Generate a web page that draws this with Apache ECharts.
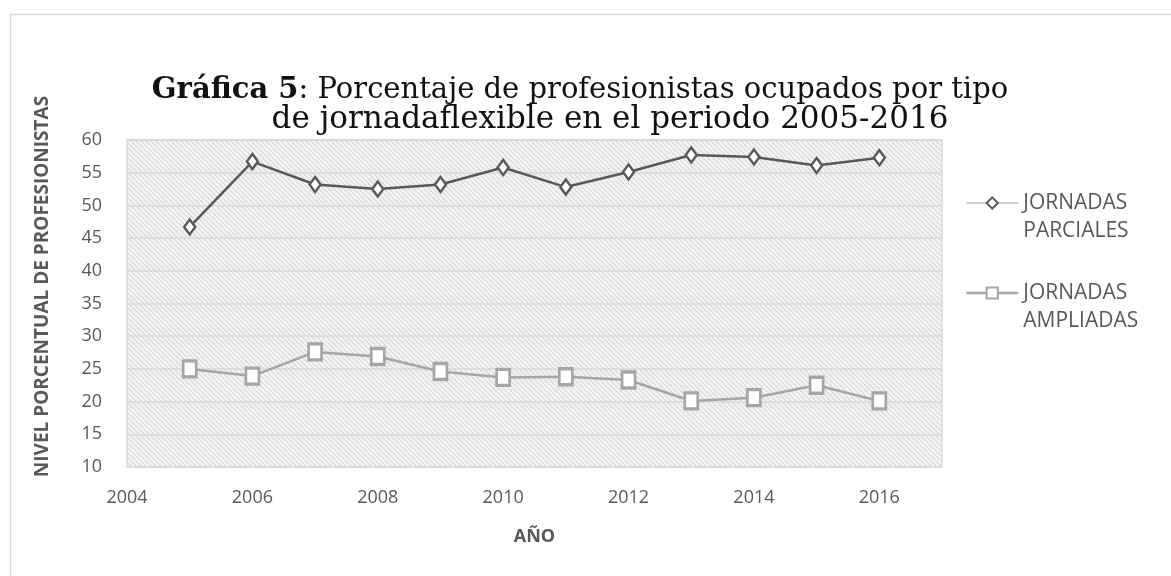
<!DOCTYPE html>
<html><head><meta charset="utf-8">
<script src="https://cdn.jsdelivr.net/npm/echarts@6/dist/echarts.min.js"></script>
<style>html,body{margin:0;padding:0;background:#fff}#c{width:1171px;height:576px}</style>
</head><body><div id="c"></div>
<script>
const years = [2005,2006,2007,2008,2009,2010,2011,2012,2013,2014,2015,2016];
const parciales = [46.7,56.7,53.2,52.5,53.2,55.8,52.8,55.1,57.7,57.4,56.1,57.3];
const ampliadas = [25.0,23.9,27.6,26.9,24.6,23.7,23.8,23.3,20.1,20.6,22.5,20.1];
const seriesNames = ['JORNADAS PARCIALES','JORNADAS AMPLIADAS'];
const titleLine1 = 'Porcentaje de profesionistas ocupados por tipo';
const titleLine2 = 'de jornadaflexible en el periodo 2005-2016';

// hatch pattern
const pc = document.createElement('canvas');
pc.width = 5; pc.height = 5;
const g = pc.getContext('2d');
g.fillStyle = '#f5f5f5'; g.fillRect(0,0,5,5);
g.strokeStyle = '#d4d4d4'; g.lineWidth = 1.1;
g.beginPath();
g.moveTo(-1,-1); g.lineTo(6,6);
g.moveTo(-1,4); g.lineTo(1,6);
g.moveTo(4,-1); g.lineTo(6,1);
g.stroke();

const chart = echarts.init(document.getElementById('c'));
chart.setOption({
  backgroundColor:'#fff',
  animation:false,
  graphic:[{type:'rect',left:8,top:12,shape:{width:1200,height:620},style:{fill:'none',stroke:'#d9d9d9',lineWidth:1.5},silent:true,z:-10}],
  title:[
    {text:'{b|Gráfica 5}{n|: '+titleLine1+'}',left:575,top:71,textAlign:'center',
     textStyle:{fontWeight:'normal',rich:{b:{fontFamily:'DejaVu Serif',fontWeight:'bold',fontSize:29,color:'#111'},n:{fontFamily:'DejaVu Serif',fontWeight:'normal',fontSize:29,color:'#111'}}}},
    {text:titleLine2,left:605,top:99,textAlign:'center',
     textStyle:{fontFamily:'DejaVu Serif',fontWeight:'normal',fontSize:31,color:'#111'}}
  ],
  grid:{left:127,top:140,right:229,bottom:109,show:true,backgroundColor:{image:pc,repeat:'repeat'},borderColor:'#d9d9d9',borderWidth:1.5},
  legend:{orient:'vertical',left:965,top:161,padding:0,itemGap:6,itemWidth:52,itemHeight:14,
    textStyle:{fontFamily:'Open Sans',fontSize:21,color:'#595959',lineHeight:28},
    formatter:n=>'\n'+n.replace(' ','\n'),
    data:[{name:seriesNames[0],lineStyle:{color:'#d0d0d0',width:2}},
          {name:seriesNames[1],lineStyle:{color:'#a6a6a6',width:2.5}}]},
  xAxis:{type:'value',min:2004,max:2017,interval:2,
    name:'AÑO',nameLocation:'middle',nameGap:61,
    nameTextStyle:{fontFamily:'Open Sans',fontWeight:'bold',fontSize:18,color:'#595959'},
    axisLine:{show:false},axisTick:{show:false},splitLine:{show:false},
    axisLabel:{fontFamily:'Open Sans',fontSize:18,color:'#595959',margin:22,
      formatter:v=> (v%2===0? String(v):'')}},
  yAxis:{type:'value',min:10,max:60,interval:5,
    name:'NIVEL PORCENTUAL DE PROFESIONISTAS',nameLocation:'middle',nameGap:75,
    nameTextStyle:{fontFamily:'Open Sans',fontWeight:'bold',fontSize:19,color:'#595959',padding:[0,0,0,34]},
    axisLine:{show:false},axisTick:{show:false},
    splitLine:{lineStyle:{color:'#d9d9d9',width:1.5}},
    axisLabel:{fontFamily:'Open Sans',fontSize:18,color:'#595959',margin:25}},
  series:[
    {name:seriesNames[0],type:'line',data:years.map((y,i)=>[y,parciales[i]]),
     symbol:'diamond',symbolSize:[11,15],
     lineStyle:{color:'#595959',width:2.5},
     itemStyle:{color:'#fff',borderColor:'#595959',borderWidth:2.5}},
    {name:seriesNames[1],type:'line',data:years.map((y,i)=>[y,ampliadas[i]]),
     symbol:'rect',symbolSize:[13,16],
     lineStyle:{color:'#a6a6a6',width:2.5},
     itemStyle:{color:'#fff',borderColor:'#a6a6a6',borderWidth:3}}
  ]
});
</script></body></html>
